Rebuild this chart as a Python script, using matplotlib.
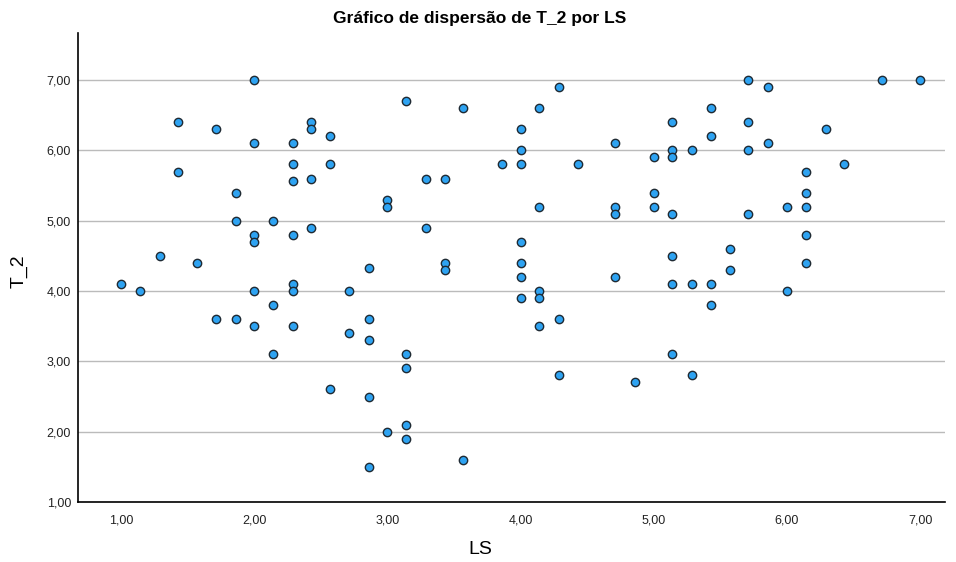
import matplotlib
matplotlib.use("Agg")
import matplotlib.pyplot as plt
from matplotlib.ticker import FuncFormatter

# === Daten (LS = Mittelwert aus 7 Items, T_2) ===
ls = [
    1.00, 1.14, 1.29, 1.43, 1.43, 1.57, 1.71, 1.71, 1.86, 1.86, 1.86,
    2.00, 2.00, 2.00, 2.00, 2.00, 2.00, 2.14, 2.14, 2.14,
    2.29, 2.29, 2.29, 2.29, 2.29, 2.29, 2.29, 2.43, 2.43, 2.43, 2.43,
    2.57, 2.57, 2.57, 2.71, 2.71, 2.86, 2.86, 2.86, 2.86, 2.86,
    3.00, 3.00, 3.00, 3.14, 3.14, 3.14, 3.14, 3.14, 3.29, 3.29,
    3.43, 3.43, 3.43, 3.57, 3.57, 3.86,
    4.00, 4.00, 4.00, 4.00, 4.00, 4.00, 4.00, 4.14, 4.14, 4.14, 4.14, 4.14,
    4.29, 4.29, 4.29, 4.43, 4.71, 4.71, 4.71, 4.71, 4.86,
    5.00, 5.00, 5.00, 5.14, 5.14, 5.14, 5.14, 5.14, 5.14, 5.14,
    5.29, 5.29, 5.29, 5.43, 5.43, 5.43, 5.43, 5.57, 5.57,
    5.71, 5.71, 5.71, 5.71, 5.86, 5.86, 6.00, 6.00,
    6.14, 6.14, 6.14, 6.14, 6.14, 6.29, 6.43, 6.71, 7.00,
]
t_2 = [
    4.1, 4.0, 4.5, 6.4, 5.7, 4.4, 6.3, 3.6, 5.4, 5.0, 3.6,
    7.0, 6.1, 4.8, 4.7, 4.0, 3.5, 5.0, 3.8, 3.1,
    6.1, 5.8, 5.56, 4.8, 4.1, 4.0, 3.5, 6.4, 6.3, 5.6, 4.9,
    6.2, 5.8, 2.6, 4.0, 3.4, 4.33, 3.6, 3.3, 2.5, 1.5,
    5.3, 5.2, 2.0, 6.7, 3.1, 2.9, 2.1, 1.9, 5.6, 4.9,
    5.6, 4.4, 4.3, 6.6, 1.6, 5.8,
    6.3, 6.0, 5.8, 4.7, 4.4, 4.2, 3.9, 6.6, 5.2, 4.0, 3.9, 3.5,
    6.9, 3.6, 2.8, 5.8, 6.1, 5.2, 5.1, 4.2, 2.7,
    5.9, 5.4, 5.2, 6.4, 6.0, 5.9, 5.1, 4.5, 4.1, 3.1,
    6.0, 4.1, 2.8, 6.6, 6.2, 4.1, 3.8, 4.6, 4.3,
    7.0, 6.4, 6.0, 5.1, 6.9, 6.1, 5.2, 4.0,
    5.7, 5.4, 5.2, 4.8, 4.4, 6.3, 5.8, 7.0, 7.0,
]
x_ticks = [1, 2, 3, 4, 5, 6, 7]
y_ticks = [1, 2, 3, 4, 5, 6, 7]

plt.rcParams["font.family"] = ["Liberation Sans", "DejaVu Sans"]

fig = plt.figure(figsize=(9.56, 5.62), dpi=100)
ax = fig.add_axes([78 / 956, 1 - 502 / 562, (945 - 78) / 956, (502 - 33) / 562])

ax.scatter(ls, t_2, s=36, facecolor="#2ea3f2", edgecolor="#1f2a33",
           linewidths=1.0, zorder=3)

ax.set_xlim(0.677, 7.186)
ax.set_ylim(1.0, 7.67)
ax.set_xticks(x_ticks)
ax.set_yticks(y_ticks)
komma = FuncFormatter(lambda v, p: f"{v:.2f}".replace(".", ","))
ax.xaxis.set_major_formatter(komma)
ax.yaxis.set_major_formatter(komma)
ax.tick_params(axis="both", labelsize=9, colors="#222222", length=0)
ax.tick_params(axis="x", pad=9)
ax.tick_params(axis="y", pad=5)

ax.yaxis.grid(True, color="#bbbbbb", linewidth=1.0, zorder=0)
ax.set_axisbelow(True)
for s in ["top", "right"]:
    ax.spines[s].set_visible(False)
for s in ["left", "bottom"]:
    ax.spines[s].set_color("black")
    ax.spines[s].set_linewidth(1.2)

fig.text(480 / 956, 1 - 18 / 562, "Gráfico de dispersão de T_2 por LS",
         ha="center", va="center", fontsize=12.5, fontweight="bold")
fig.text(480 / 956, 1 - 550 / 562, "LS", ha="center", va="center", fontsize=14)
fig.text(19 / 956, 1 - 271 / 562, "T_2", ha="center", va="center",
         fontsize=14, rotation=90)

plt.savefig("out.png", dpi=100)
